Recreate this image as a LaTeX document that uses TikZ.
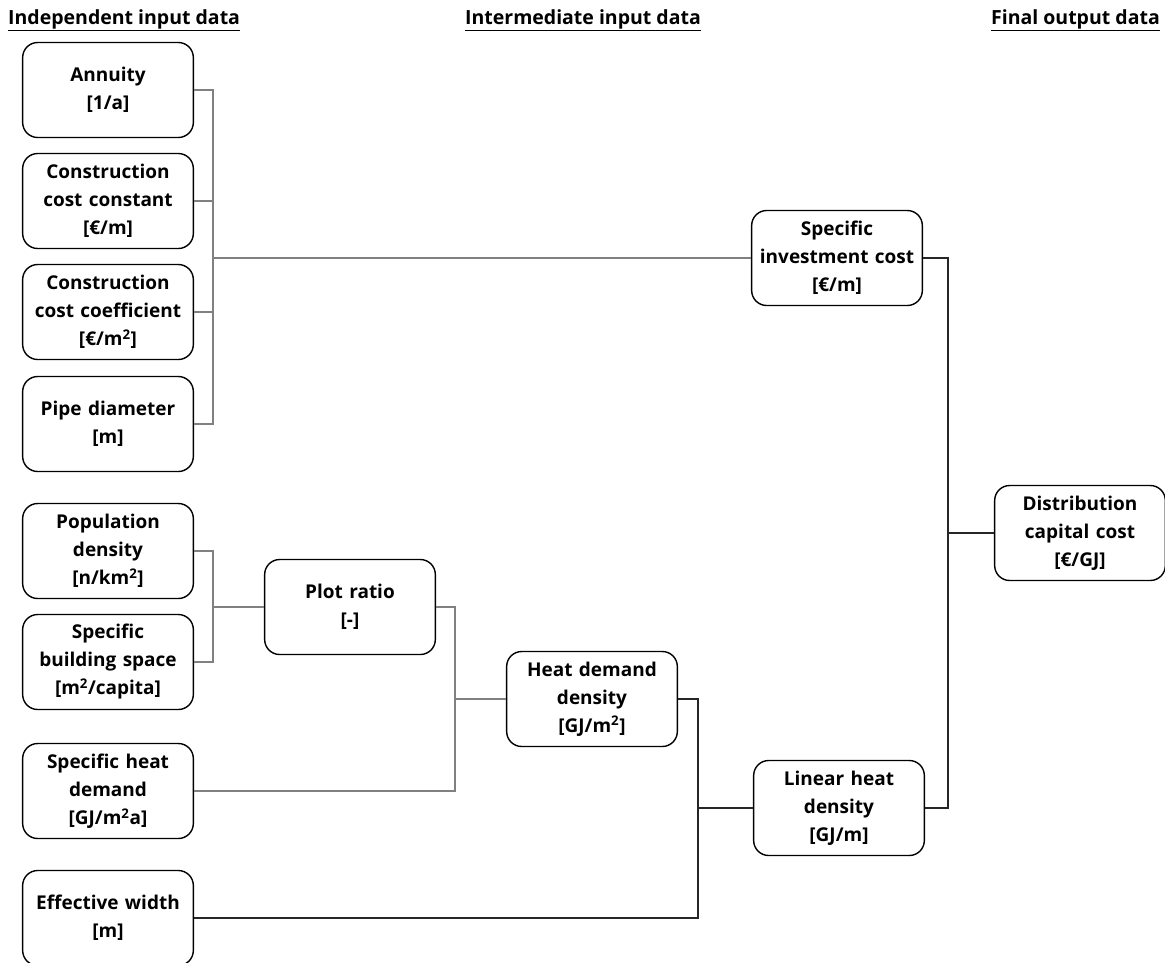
\documentclass[tikz,border=0pt]{standalone}
\usepackage{fontspec}
\setmainfont{Open Sans}
\usepackage{tikz}
\usetikzlibrary{positioning}

\begin{document}
\begin{tikzpicture}[x=1pt, y=-1pt,
    databox/.style={draw, rectangle, rounded corners=15pt, line width=1.4pt,
        minimum width=167pt, minimum height=95pt, text width=164pt,
        align=center, font=\fontsize{19}{28}\selectfont\bfseries},
    header/.style={font=\fontsize{19.5}{22}\selectfont\bfseries},
    greyline/.style={draw=black!50, line width=1.5pt},
    darkline/.style={draw=black!85, line width=1.5pt}]
\useasboundingbox (0,0) rectangle (1165,962);

% column headings
\node[header, anchor=west, inner sep=0pt] (hindep) at (8,20) {\underline{Independent input data}};
\node[header, inner sep=0pt] (hinter) at (583,20) {\underline{Intermediate input data}};
\node[header, anchor=east, inner sep=0pt] (hfinal) at (1160,20) {\underline{Final output data}};

% independent input data
\node[databox] (annuity) at (108,90) {Annuity\\ {[1/a]}};
\node[databox] (constconst) at (108,201) {Construction\\ cost constant\\ {[€/m]}};
\node[databox] (constcoef) at (108,312) {Construction\\ cost coefficient\\ {[€/m\textsuperscript{2}]}};
\node[databox] (pipediam) at (108,424) {Pipe diameter\\ {[m]}};
\node[databox] (popdens) at (108,551) {Population\\ density\\ {[n/km\textsuperscript{2}]}};
\node[databox] (buildspace) at (108,662) {Specific\\ building space\\ {[m\textsuperscript{2}/capita]}};
\node[databox] (heatdem) at (108,791) {Specific heat\\ demand\\ {[GJ/m\textsuperscript{2}a]}};
\node[databox] (effwidth) at (108,918) {Effective width\\ {[m]}};

% intermediate input data
\node[databox] (plotratio) at (350,607) {Plot ratio\\ {[-]}};
\node[databox] (heatdens) at (592,699) {Heat demand\\ density\\ {[GJ/m\textsuperscript{2}]}};
\node[databox] (investcost) at (837,258) {Specific\\ investment cost\\ {[€/m]}};
\node[databox] (linheat) at (839,808) {Linear heat\\ density\\ {[GJ/m]}};

% final output data
\node[databox] (distcost) at (1080,533) {Distribution\\ capital cost\\ {[€/GJ]}};

% junction points
\coordinate (busA) at (213,258);
\coordinate (busB) at (213,607);
\coordinate (busC) at (455,699);
\coordinate (busD) at (698,808);
\coordinate (busE) at (948,533);

% connectors
\draw[greyline] (annuity.east) -| (busA);
\draw[greyline] (pipediam.east) -| (busA);
\draw[greyline] (constconst.east) -- (constconst.east -| busA);
\draw[greyline] (constcoef.east) -- (constcoef.east -| busA);
\draw[greyline] (busA) -- (investcost.west);

\draw[greyline] (popdens.east) -| (busB);
\draw[greyline] (buildspace.east) -| (busB);
\draw[greyline] (busB) -- (plotratio.west);

\draw[greyline] (plotratio.east) -| (busC);
\draw[greyline] (heatdem.east) -| (busC);
\draw[greyline] (busC) -- (heatdens.west);

\draw[darkline] (heatdens.east) -| (busD);
\draw[darkline] (effwidth.east) -| (busD);
\draw[darkline] (busD) -- (linheat.west);

\draw[darkline] (investcost.east) -| (busE);
\draw[darkline] (linheat.east) -| (busE);
\draw[darkline] (busE) -- (distcost.west);
\end{tikzpicture}
\end{document}
